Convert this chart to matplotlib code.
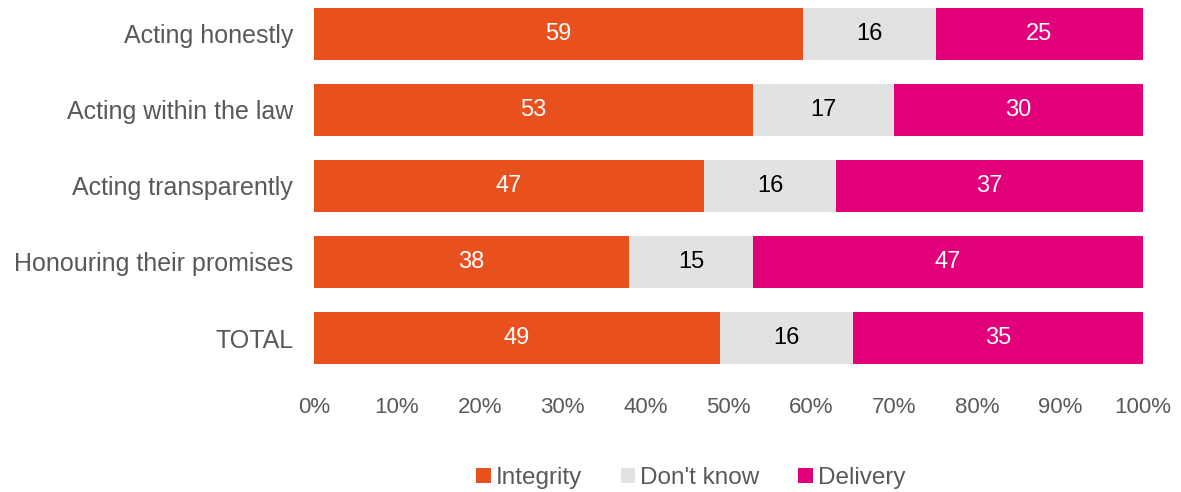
import numpy as np
import matplotlib
matplotlib.use("Agg")
import matplotlib.pyplot as plt
from matplotlib.patches import Patch

plt.rcParams["font.family"] = ["Liberation Sans", "DejaVu Sans"]

categorias = ["Acting honestly", "Acting within the law", "Acting transparently",
              "Honouring their promises", "TOTAL"]
integridad = [59, 53, 47, 38, 49]
no_sabe = [16, 17, 16, 15, 16]
cumplimiento = [25, 30, 37, 47, 35]

series = ["Integrity", "Don't know", "Delivery"]
colores = ["#E8501E", "#E2E2E2", "#E2007A"]
color_texto = ["white", "black", "white"]
gris = "#595959"

fig = plt.figure(figsize=(11.81, 4.92), dpi=100)
ax = fig.add_axes([314 / 1181, 1 - 376 / 492, (1143 - 314) / 1181, 376 / 492])

y = np.arange(len(categorias))
izquierda = np.zeros(len(categorias))
for valores, color, ctxt in zip([integridad, no_sabe, cumplimiento], colores, color_texto):
    ax.barh(y, valores, left=izquierda, height=0.68, color=color)
    for yi, l, v in zip(y, izquierda, valores):
        ax.text(l + v / 2, yi, str(v), ha="center", va="center",
                color=ctxt, fontsize=17)
    izquierda += np.array(valores)

ax.set_xlim(0, 100)
ax.set_ylim(4.5, 4.5 - 376 / 76.0)
ax.set_yticks(y)
ax.set_yticklabels(categorias, fontsize=18, color=gris)
ax.set_xticks(np.arange(0, 101, 10))
ax.set_xticklabels([f"{t}%" for t in range(0, 101, 10)], fontsize=16, color=gris)
ax.tick_params(length=0)
ax.tick_params(axis="y", pad=15)
ax.tick_params(axis="x", pad=15)
for s in ax.spines.values():
    s.set_visible(False)

handles = [Patch(facecolor=c, edgecolor="none") for c in colores]
leg = fig.legend(handles, series, loc="center", bbox_to_anchor=(0.585, 0.028),
                 ncol=3, frameon=False, fontsize=17.5, handlelength=0.6,
                 handleheight=0.6, handletextpad=0.2, columnspacing=1.6)
for t in leg.get_texts():
    t.set_color(gris)

fig.savefig("out.png", dpi=100)
